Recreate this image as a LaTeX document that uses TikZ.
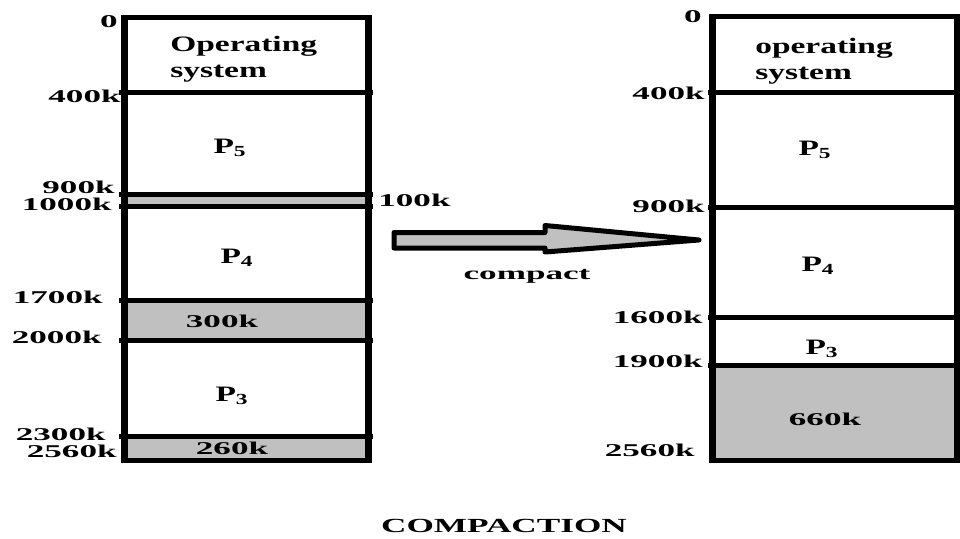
\documentclass[tikz,border=0pt]{standalone}
\usepackage{fontspec}
\setmainfont{Liberation Serif}
\definecolor{holegray}{HTML}{C0C0C0}

\begin{document}
\begin{tikzpicture}[x=1pt, y=-1pt,
  frame/.style={line width=7pt},
  divider/.style={line width=5pt},
  addr/.style={font=\fontsize{18}{21}\selectfont\bfseries, xscale=1.95, transform shape, inner sep=0pt, anchor=east},
  holetxt/.style={font=\fontsize{18}{21}\selectfont\bfseries, xscale=1.95, transform shape, inner sep=0pt},
  cell/.style={font=\fontsize{22}{26}\selectfont\bfseries, xscale=1.52, transform shape, inner sep=0pt}]

\useasboundingbox (0,0) rectangle (960,538);

% Holes (free memory)
\fill[holegray] (124,194) rectangle (368,206);
\fill[holegray] (124,300) rectangle (368,340);
\fill[holegray] (124,436) rectangle (368,460);
\fill[holegray] (712,365) rectangle (957,460);

% Before compaction: partitions
\foreach \y in {92,194,206,300,340,436} {
  \draw[divider] (119,\y) -- (373,\y);
}
\draw[divider] (124,17.5) rectangle (368,460);
\draw[frame] (124,15) -- (124,462.5);
\draw[frame] (368,15) -- (368,462.5);

% After compaction: partitions
\foreach \y in {92,207,317,365} {
  \draw[divider] (708,\y) -- (960,\y);
}
\draw[divider] (712,16) rectangle (957,460);
\draw[frame] (712,13.5) -- (712,462.5);
\draw[frame] (957,13.5) -- (957,462.5);

% Addresses (before)
\node[addr] (b0) at (118,22) {0};
\node[addr] (b400) at (121,96) {400k};
\node[addr] (b900) at (115,187) {900k};
\node[addr] (b1000) at (112,204) {1000k};
\node[addr] (b1700) at (103,297) {1700k};
\node[addr] (b2000) at (102,337) {2000k};
\node[addr] (b2300) at (106,434) {2300k};
\node[addr] (b2560) at (117,451) {2560k};

% Addresses (after)
\node[addr] (a0) at (702,17) {0};
\node[addr] (a400) at (705,93) {400k};
\node[addr] (a900) at (705,206) {900k};
\node[addr] (a1600) at (703,317) {1600k};
\node[addr] (a1900) at (703,361) {1900k};
\node[addr] (a2560) at (695,450) {2560k};

% Contents (before)
\node[cell, anchor=north west, align=left] (bos) at (170,36) {Operating\\system};
\node[cell] (bp5) at (230,148) {P\textsubscript{5}};
\node[cell] (bp4) at (237,258) {P\textsubscript{4}};
\node[holetxt] (bh300) at (222,321) {300k};
\node[cell] (bp3) at (232,396) {P\textsubscript{3}};
\node[holetxt] (bh260) at (232,448) {260k};
\node[holetxt, anchor=west] (bh100) at (378,200) {100k};

% Contents (after)
\node[cell, anchor=north west, align=left] (aos) at (755,38) {operating\\system};
\node[cell] (ap5) at (815,150) {P\textsubscript{5}};
\node[cell] (ap4) at (818,266) {P\textsubscript{4}};
\node[cell] (ap3) at (822,349) {P\textsubscript{3}};
\node[holetxt] (ah660) at (825,419) {660k};

% Compact arrow
\draw[line width=5pt, line join=round, fill=holegray]
  (394,232.5) -- (545,232.5) -- (545,225.5) -- (699,240)
  -- (545,252) -- (545,248) -- (394,248) -- cycle;
\node[holetxt, anchor=base] (compact) at (527,279) {compact};

% Title
\node[font=\fontsize{20}{24}\selectfont\bfseries, xscale=1.76, transform shape, anchor=base] (title) at (504,532) {COMPACTION};

\end{tikzpicture}
\end{document}
